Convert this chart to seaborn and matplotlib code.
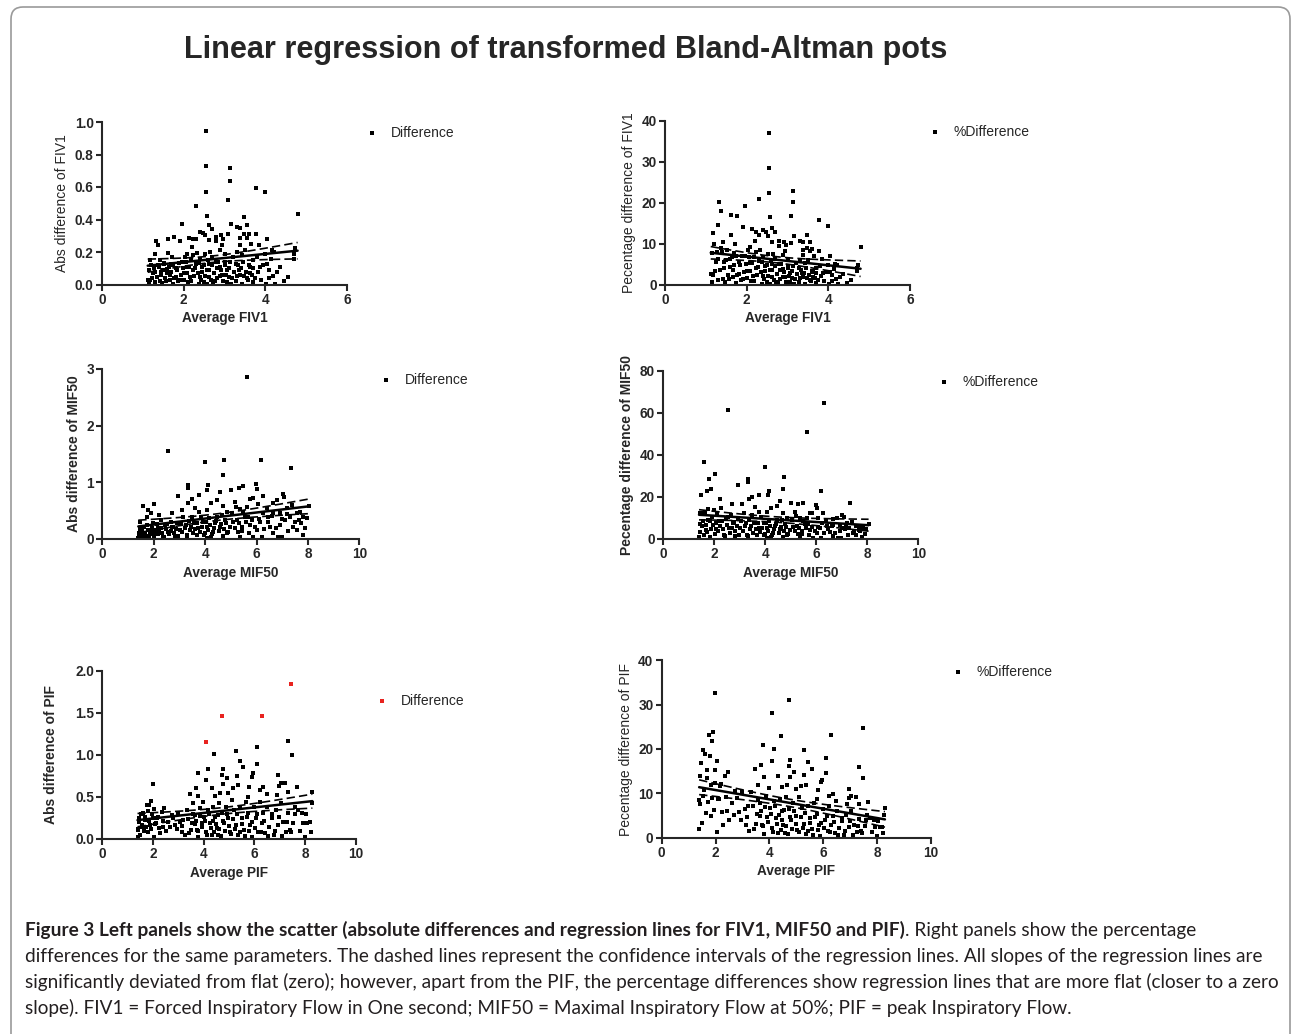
import numpy as np
import pandas as pd
import matplotlib
matplotlib.use("Agg")
import matplotlib.pyplot as plt
import matplotlib.transforms as mtransforms
from matplotlib.patches import FancyBboxPatch
import seaborn as sns

# FIV1: average vs absolute difference
fiv1_pts = [
    (2.55, 0.945), (2.55, 0.727), (2.55, 0.568), (3.13, 0.717), (3.14, 0.637), (3.09, 0.518), (2.31, 0.486),
    (3.76, 0.596), (4.00, 0.568), (4.79, 0.436), (2.57, 0.424), (3.47, 0.416), (1.96, 0.375), (3.17, 0.375),
    (2.63, 0.365), (2.69, 0.344), (3.31, 0.354), (3.37, 0.350), (3.55, 0.365), (2.41, 0.324), (2.47, 0.318),
    (2.53, 0.303), (3.78, 0.309), (3.08, 0.309), (3.48, 0.313), (2.91, 0.305), (4.04, 0.283), (1.32, 0.268),
    (1.37, 0.246), (1.62, 0.277), (1.76, 0.293), (1.90, 0.266), (2.12, 0.289), (2.22, 0.283), (2.31, 0.279),
    (2.20, 0.232), (2.63, 0.273), (2.78, 0.293), (2.79, 0.266), (2.94, 0.242), (2.96, 0.283), (3.39, 0.289),
    (3.55, 0.287), (3.59, 0.313), (3.65, 0.252), (3.37, 0.242), (3.84, 0.242), (4.20, 0.200), (4.16, 0.211),
    (3.98, 0.190), (4.72, 0.223), (4.71, 0.186), (4.69, 0.160), (4.55, 0.047), (4.24, 0.006), (4.02, 0.006),
    (4.18, 0.053), (4.08, 0.092), (4.04, 0.125), (4.14, 0.160), (3.88, 0.108), (3.71, 0.150), (3.80, 0.170),
    (3.63, 0.108), (3.62, 0.068), (3.48, 0.055), (3.43, 0.006), (3.31, 0.053), (3.35, 0.092), (3.27, 0.129),
    (3.20, 0.170), (3.06, 0.088), (3.11, 0.047), (3.17, 0.006), (3.00, 0.139), (2.90, 0.108), (2.94, 0.057),
    (2.82, 0.037), (2.72, 0.006), (2.78, 0.139), (2.69, 0.170), (2.61, 0.129), (2.56, 0.088), (2.61, 0.047),
    (2.49, 0.016), (2.39, 0.047), (2.45, 0.109), (2.41, 0.160), (2.33, 0.195), (2.29, 0.129), (2.23, 0.088),
    (2.16, 0.047), (2.10, 0.016), (2.07, 0.109), (2.00, 0.068), (1.96, 0.139), (2.04, 0.170), (1.92, 0.027),
    (1.84, 0.088), (1.80, 0.047), (1.74, 0.006), (1.69, 0.129), (1.71, 0.170), (1.66, 0.057), (1.58, 0.098),
    (1.55, 0.037), (1.47, 0.010), (1.51, 0.129), (1.44, 0.078), (1.39, 0.109), (1.35, 0.047), (1.31, 0.190),
    (1.25, 0.068), (1.20, 0.119), (1.17, 0.027), (1.14, 0.006), (1.18, 0.150), (1.31, 0.016), (1.43, 0.150),
    (1.62, 0.195), (2.08, 0.190), (2.24, 0.180), (2.53, 0.190), (2.65, 0.200), (2.90, 0.211), (3.02, 0.190),
    (3.31, 0.200), (3.51, 0.211), (3.43, 0.180), (4.37, 0.109), (3.55, 0.037), (3.71, 0.016), (3.06, 0.016),
    (2.37, 0.002), (2.57, 0.002),
    # dense band near the x axis
    (1.12, 0.03), (1.15, 0.09), (1.22, 0.04), (1.27, 0.10), (1.30, 0.08), (1.36, 0.12), (1.41, 0.02),
    (1.45, 0.06), (1.49, 0.09), (1.53, 0.13), (1.57, 0.02), (1.60, 0.07), (1.64, 0.11), (1.67, 0.03),
    (1.70, 0.08), (1.73, 0.12), (1.77, 0.04), (1.82, 0.10), (1.86, 0.02), (1.88, 0.13), (1.94, 0.06),
    (1.98, 0.10), (2.02, 0.03), (2.05, 0.14), (2.09, 0.07), (2.13, 0.11), (2.17, 0.02), (2.19, 0.15),
    (2.26, 0.05), (2.28, 0.10), (2.35, 0.07), (2.38, 0.13), (2.43, 0.03), (2.46, 0.08), (2.50, 0.12),
    (2.52, 0.05), (2.59, 0.15), (2.62, 0.09), (2.66, 0.03), (2.70, 0.12), (2.74, 0.07), (2.77, 0.02),
    (2.81, 0.10), (2.85, 0.14), (2.88, 0.05), (2.92, 0.09), (2.97, 0.02), (3.01, 0.12), (3.04, 0.06),
    (3.10, 0.10), (3.14, 0.14), (3.19, 0.04), (3.23, 0.08), (3.28, 0.02), (3.33, 0.12), (3.39, 0.06),
    (3.41, 0.10), (3.46, 0.14), (3.52, 0.08), (3.57, 0.03), (3.60, 0.12), (3.67, 0.06), (3.69, 0.10),
    (3.74, 0.04), (3.83, 0.08), (3.90, 0.03), (3.95, 0.12), (4.10, 0.04), (4.28, 0.08), (4.45, 0.02),
]

# MIF50: average vs absolute difference (6.30, 4.06 is off the 0-3 axis, seen only as %)
mif50_pts = [
    (5.64, 2.865), (2.54, 1.553), (3.99, 1.365), (4.73, 1.400), (6.17, 1.400), (7.34, 1.247), (4.71, 1.124),
    (2.93, 0.759), (3.32, 0.953), (3.32, 0.894), (4.13, 0.947), (4.09, 0.865), (3.75, 0.782), (4.59, 0.835),
    (5.00, 0.865), (5.30, 0.894), (5.49, 0.935), (5.98, 0.965), (6.03, 0.876), (6.26, 0.765), (5.85, 0.729),
    (7.02, 0.788), (7.08, 0.735), (7.39, 0.600), (1.60, 0.588), (2.01, 0.618), (1.79, 0.512), (1.89, 0.453),
    (3.48, 0.700), (3.35, 0.641), (4.24, 0.629), (4.45, 0.688), (4.68, 0.582), (5.16, 0.659), (5.21, 0.571),
    (5.36, 0.524), (5.75, 0.700), (5.62, 0.571), (6.06, 0.618), (6.39, 0.541), (6.65, 0.629), (6.81, 0.688),
    (7.20, 0.541), (7.56, 0.453), (7.66, 0.335), (7.72, 0.276), (7.79, 0.071), (7.56, 0.159), (7.24, 0.147),
    (6.91, 0.247), (6.98, 0.041), (6.65, 0.100), (6.52, 0.218), (6.43, 0.394), (6.24, 0.465), (6.13, 0.306),
    (6.01, 0.159), (5.88, 0.041), (5.75, 0.247), (5.68, 0.394), (5.49, 0.482), (5.42, 0.218), (5.29, 0.129),
    (5.23, 0.335), (5.03, 0.453), (4.97, 0.218), (4.84, 0.100), (4.77, 0.335), (4.64, 0.424), (4.58, 0.218),
    (4.45, 0.394), (4.38, 0.276), (4.32, 0.129), (4.22, 0.041), (4.16, 0.365), (4.06, 0.218), (3.99, 0.100),
    (3.93, 0.306), (3.83, 0.394), (3.75, 0.482), (3.74, 0.188), (3.67, 0.071), (3.57, 0.276), (3.49, 0.394),
    (3.41, 0.159), (3.31, 0.041), (3.26, 0.247), (3.15, 0.394), (3.09, 0.512), (3.02, 0.159), (2.92, 0.276),
    (2.83, 0.041), (2.76, 0.218), (2.66, 0.306), (2.57, 0.129), (2.44, 0.247), (2.37, 0.041), (2.27, 0.335),
    (2.18, 0.188), (2.05, 0.100), (1.98, 0.276), (1.85, 0.159), (1.75, 0.247), (1.66, 0.071), (1.53, 0.188),
    (1.47, 0.306), (1.40, 0.012), (1.44, 0.100), (1.73, 0.394), (2.22, 0.424), (2.70, 0.453), (3.61, 0.541),
    (4.06, 0.512), (4.84, 0.482), (5.55, 0.394), (6.65, 0.453), (6.91, 0.453), (7.30, 0.394), (7.95, 0.365),
    (8.05, 0.582), (7.82, 0.394), (7.43, 0.218), (7.11, 0.335), (6.85, 0.041), (6.20, 0.041), (5.36, 0.041),
    (4.68, 0.053), (4.06, 0.024), (6.30, 4.060),
    # dense band near the x axis
    (1.42, 0.05), (1.45, 0.18), (1.50, 0.09), (1.55, 0.13), (1.58, 0.03), (1.62, 0.21), (1.68, 0.11),
    (1.71, 0.06), (1.77, 0.16), (1.82, 0.02), (1.87, 0.09), (1.92, 0.20), (1.95, 0.13), (2.02, 0.05),
    (2.08, 0.16), (2.12, 0.26), (2.15, 0.08), (2.22, 0.14), (2.30, 0.20), (2.34, 0.11), (2.40, 0.03),
    (2.48, 0.17), (2.52, 0.26), (2.61, 0.08), (2.68, 0.14), (2.73, 0.21), (2.80, 0.11), (2.88, 0.18),
    (2.95, 0.05), (3.05, 0.26), (3.12, 0.12), (3.20, 0.20), (3.28, 0.07), (3.36, 0.31), (3.44, 0.22),
    (3.52, 0.10), (3.62, 0.17), (3.70, 0.28), (3.79, 0.12), (3.87, 0.21), (3.95, 0.07), (4.02, 0.30),
    (4.11, 0.16), (4.19, 0.25), (4.28, 0.09), (4.36, 0.20), (4.42, 0.32), (4.55, 0.14), (4.62, 0.27),
    (4.74, 0.18), (4.82, 0.28), (4.90, 0.12), (5.08, 0.30), (5.15, 0.20), (5.33, 0.28), (5.45, 0.14),
    (5.58, 0.30), (5.70, 0.10), (5.82, 0.33), (5.95, 0.22), (6.08, 0.35), (6.30, 0.18), (6.45, 0.30),
    (6.62, 0.40), (6.75, 0.20), (7.00, 0.35), (7.18, 0.45), (7.48, 0.30), (7.70, 0.48), (7.90, 0.20),
]

# PIF: average vs absolute difference; the four points marked red in the left panel
pif_red_pts = [(4.11, 1.159), (4.74, 1.468), (6.29, 1.460), (7.46, 1.841)]
pif_pts = [
    (7.34, 1.171), (7.49, 1.000), (6.09, 1.100), (5.28, 1.048), (4.42, 1.012), (5.43, 0.929), (5.57, 0.861),
    (6.09, 0.893), (4.18, 0.833), (4.78, 0.833), (3.76, 0.786), (4.91, 0.722), (4.71, 0.762), (5.30, 0.754),
    (5.92, 0.742), (5.96, 0.782), (6.95, 0.758), (4.08, 0.702), (1.99, 0.651), (4.78, 0.655), (5.37, 0.643),
    (7.04, 0.663), (7.21, 0.663), (4.32, 0.603), (5.17, 0.603), (5.80, 0.623), (6.22, 0.583), (6.36, 0.623),
    (6.97, 0.631), (7.67, 0.623), (3.68, 0.607), (4.64, 0.552), (3.79, 0.516), (3.46, 0.536), (4.45, 0.512),
    (4.97, 0.544), (5.76, 0.504), (6.49, 0.536), (6.88, 0.524), (7.34, 0.563), (8.29, 0.563), (1.86, 0.405),
    (1.75, 0.405), (1.91, 0.456), (2.04, 0.353), (2.45, 0.365), (2.34, 0.325), (2.21, 0.266), (2.12, 0.187),
    (1.99, 0.246), (1.88, 0.167), (1.68, 0.226), (1.55, 0.147), (1.46, 0.246), (1.42, 0.107), (1.39, 0.028),
    (1.62, 0.306), (1.82, 0.087), (2.04, 0.028), (2.28, 0.067), (2.41, 0.147), (2.61, 0.206), (2.74, 0.286),
    (2.87, 0.167), (3.00, 0.306), (3.13, 0.087), (3.20, 0.226), (3.33, 0.345), (3.43, 0.067), (3.53, 0.187),
    (3.59, 0.425), (3.66, 0.286), (3.72, 0.107), (3.79, 0.028), (3.86, 0.365), (3.92, 0.187), (3.99, 0.444),
    (4.03, 0.266), (4.09, 0.087), (4.16, 0.345), (4.25, 0.187), (4.32, 0.048), (4.38, 0.385), (4.45, 0.266),
    (4.51, 0.127), (4.58, 0.048), (4.62, 0.425), (4.71, 0.306), (4.80, 0.187), (4.88, 0.385), (4.97, 0.246),
    (5.04, 0.087), (5.11, 0.464), (5.20, 0.345), (5.28, 0.167), (5.37, 0.048), (5.43, 0.385), (5.50, 0.246),
    (5.59, 0.107), (5.67, 0.444), (5.76, 0.306), (5.83, 0.167), (5.89, 0.028), (5.99, 0.385), (6.07, 0.246),
    (6.16, 0.087), (6.22, 0.444), (6.29, 0.187), (6.36, 0.306), (6.42, 0.067), (6.51, 0.385), (6.59, 0.147),
    (6.68, 0.246), (6.78, 0.048), (6.86, 0.345), (6.95, 0.167), (7.04, 0.425), (7.14, 0.206), (7.25, 0.087),
    (7.34, 0.306), (7.41, 0.107), (7.54, 0.194), (7.61, 0.385), (7.74, 0.345), (7.87, 0.313), (7.93, 0.187),
    (8.00, 0.028), (8.09, 0.187), (8.22, 0.087), (8.26, 0.425),
    # dense band near the x axis
    (1.40, 0.12), (1.44, 0.20), (1.48, 0.05), (1.52, 0.30), (1.58, 0.17), (1.64, 0.09), (1.70, 0.26),
    (1.73, 0.14), (1.79, 0.33), (1.84, 0.22), (1.93, 0.12), (1.97, 0.30), (2.08, 0.18), (2.15, 0.25),
    (2.25, 0.13), (2.38, 0.22), (2.50, 0.10), (2.68, 0.14), (2.80, 0.25), (2.95, 0.12), (3.08, 0.20),
    (3.15, 0.15), (3.26, 0.05), (3.38, 0.24), (3.50, 0.11), (3.57, 0.30), (3.64, 0.18), (3.70, 0.22),
    (3.78, 0.10), (3.84, 0.27), (3.95, 0.14), (4.05, 0.22), (4.12, 0.05), (4.20, 0.30), (4.28, 0.13),
    (4.35, 0.22), (4.42, 0.08), (4.48, 0.18), (4.55, 0.28), (4.60, 0.12), (4.68, 0.04), (4.75, 0.22),
    (4.85, 0.10), (4.92, 0.30), (5.00, 0.16), (5.08, 0.06), (5.16, 0.24), (5.25, 0.12), (5.33, 0.30),
    (5.42, 0.08), (5.52, 0.18), (5.62, 0.04), (5.70, 0.26), (5.80, 0.10), (5.92, 0.20), (6.02, 0.13),
    (6.12, 0.30), (6.25, 0.08), (6.40, 0.22), (6.55, 0.04), (6.70, 0.30), (6.82, 0.10), (6.98, 0.26),
    (7.10, 0.04), (7.30, 0.20), (7.45, 0.08), (7.60, 0.30), (7.80, 0.10), (8.05, 0.30), (8.18, 0.20),
]

title = "Linear regression of transformed Bland-Altman pots"
cap_bold = ("Figure 3 Left panels show the scatter (absolute differences and regression "
            "lines for FIV1, MIF50 and PIF)")
cap_lines = [
    ". Right panels show the percentage",
    "differences for the same parameters. The dashed lines represent the confidence intervals of the "
    "regression lines. All slopes of the regression lines are",
    "significantly deviated from flat (zero); however, apart from the PIF, the percentage differences "
    "show regression lines that are more flat (closer to a zero",
    "slope). FIV1 = Forced Inspiratory Flow in One second; MIF50 = Maximal Inspiratory Flow at 50%; "
    "PIF = peak Inspiratory Flow.",
]


def to_df(pts):
    df = pd.DataFrame(pts, columns=["avg", "diff"])
    df["pct"] = df["diff"] / df["avg"] * 100
    return df


fiv1 = to_df(fiv1_pts)
mif50 = to_df(mif50_pts)
pif_red = to_df(pif_red_pts)
pif = to_df(pif_pts)
pif_all = pd.concat([pif, pif_red], ignore_index=True)

sns.set_style("ticks")
plt.rcParams["font.family"] = ["Liberation Sans", "DejaVu Sans"]

W, H = 1291, 1034
fig = plt.figure(figsize=(W / 100, H / 100), dpi=100)


def rect(x0, x1, ytop, ybot):
    return [x0 / W, 1 - ybot / H, (x1 - x0) / W, (ybot - ytop) / H]


def reg_lines(ax, x, y):
    x = np.asarray(x)
    y = np.asarray(y)
    b, a = np.polyfit(x, y, 1)
    n = len(x)
    s = np.sqrt(np.sum((y - (a + b * x)) ** 2) / (n - 2))
    sxx = np.sum((x - x.mean()) ** 2)
    xs = np.linspace(x.min(), x.max(), 60)
    yh = a + b * xs
    se = s * np.sqrt(1 / n + (xs - x.mean()) ** 2 / sxx)
    ax.plot(xs, yh, color="black", lw=1.8)
    ax.plot(xs, yh + 1.97 * se, color="black", lw=1.2, ls=(0, (5, 2.5)))
    ax.plot(xs, yh - 1.97 * se, color="black", lw=1.2, ls=(0, (5, 2.5)))


def panel(r, df, col, xmax, xticks, yticks, yfmt, xlabel, ylabel, ybold, leg, legxy, red=None):
    ax = fig.add_axes(r)
    if red is None:
        sns.scatterplot(data=df, x="avg", y=col, ax=ax, marker="s", s=5, color="black",
                        linewidth=0, label=leg, legend=False)
        reg_lines(ax, df["avg"], df[col])
    else:
        sns.scatterplot(data=df, x="avg", y=col, ax=ax, marker="s", s=5, color="black",
                        linewidth=0, legend=False)
        sns.scatterplot(data=red, x="avg", y=col, ax=ax, marker="s", s=5, color="#e8231f",
                        linewidth=0, label=leg, legend=False)
        both = pd.concat([df, red])
        reg_lines(ax, both["avg"], both[col])
    ax.set_xlim(0, xmax)
    ax.set_ylim(0, yticks[-1])
    ax.set_xticks(xticks)
    ax.set_yticks(yticks)
    ax.set_yticklabels([yfmt.format(v) for v in yticks])
    sns.despine(ax=ax)
    for sp in ["left", "bottom"]:
        ax.spines[sp].set_linewidth(1.5)
    ax.tick_params(direction="out", length=4, width=1.5, labelsize=9.8, pad=2)
    for lab in ax.get_xticklabels() + ax.get_yticklabels():
        lab.set_fontweight("bold")
    ax.set_xlabel(xlabel, fontsize=9.8, fontweight="bold", labelpad=3)
    ax.set_ylabel(ylabel, fontsize=10, fontweight="bold" if ybold else "normal", labelpad=4)
    fs = 10
    hl = 0.8
    lx, ly = legxy
    ax.legend(loc="center left", bbox_to_anchor=((lx - hl * fs * 100 / 72 / 2) / W, 1 - ly / H),
              bbox_transform=fig.transFigure, frameon=False, borderpad=0, borderaxespad=0,
              handlelength=hl, handletextpad=0.95, fontsize=fs)
    return ax


panel(rect(102, 347, 122, 284.5), fiv1, "diff", 6, [0, 2, 4, 6], [0, 0.2, 0.4, 0.6, 0.8, 1.0],
      "{:.1f}", "Average FIV1", "Abs difference of FIV1", False, "Difference", (372, 133))
panel(rect(665, 910, 121, 284.5), fiv1, "pct", 6, [0, 2, 4, 6], [0, 10, 20, 30, 40],
      "{:.0f}", "Average FIV1", "Pecentage difference of FIV1", False, "%Difference", (935, 132))
panel(rect(102.3, 359.3, 369, 539), mif50, "diff", 10, [0, 2, 4, 6, 8, 10], [0, 1, 2, 3],
      "{:.0f}", "Average MIF50", "Abs difference of MIF50", True, "Difference", (386, 380))
panel(rect(663.3, 918.3, 370.7, 539), mif50, "pct", 10, [0, 2, 4, 6, 8, 10], [0, 20, 40, 60, 80],
      "{:.0f}", "Average MIF50", "Pecentage difference of MIF50", True, "%Difference", (944, 382))
ax5 = panel(rect(102.3, 355.7, 671, 839), pif, "diff", 10, [0, 2, 4, 6, 8, 10], [0, 0.5, 1.0, 1.5, 2.0],
            "{:.1f}", "Average PIF", "Abs difference of PIF", True, "Difference", (382, 701), red=pif_red)
ax5.yaxis.labelpad = 12
panel(rect(661.7, 931, 660.3, 837.7), pif_all, "pct", 10, [0, 2, 4, 6, 8, 10], [0, 10, 20, 30, 40],
      "{:.0f}", "Average PIF", "Pecentage difference of PIF", False, "%Difference", (958, 672))

# frame round the figure panel
frame = FancyBboxPatch((11, -20), 1279, H - 7 + 20, boxstyle="round,pad=0,rounding_size=12",
                       transform=mtransforms.IdentityTransform(), facecolor="none",
                       edgecolor="#9a9a9a", lw=1.2)
fig.add_artist(frame)

renderer = fig.canvas.get_renderer()

# title, fitted to its width in the reference
t = fig.text(566 / W, 1 - 50 / H, title, ha="center", va="center", fontsize=20, fontweight="bold")
t.set_fontsize(20 * 762 / t.get_window_extent(renderer).width)

# caption, sized so the widest line spans the reference width
cap_font = ["Lato", "DejaVu Sans"]
widest = 0
for line in cap_lines[1:3]:
    probe = fig.text(0, 0, line, fontsize=12, family=cap_font)
    widest = max(widest, probe.get_window_extent(renderer).width)
    probe.remove()
cfs = 12 * 1250 / widest
col = "#231f20"
tb = fig.text(25 / W, 1 - 936 / H, cap_bold, fontsize=cfs, fontweight="bold", family=cap_font,
              color=col, va="baseline")
bw = tb.get_window_extent(renderer).width
fig.text((25 + bw) / W, 1 - 936 / H, cap_lines[0], fontsize=cfs, family=cap_font, color=col,
         va="baseline")
for i, line in enumerate(cap_lines[1:]):
    fig.text(25 / W, 1 - (962 + 26 * i) / H, line, fontsize=cfs, family=cap_font, color=col,
             va="baseline")

fig.savefig("out.png", dpi=100)
